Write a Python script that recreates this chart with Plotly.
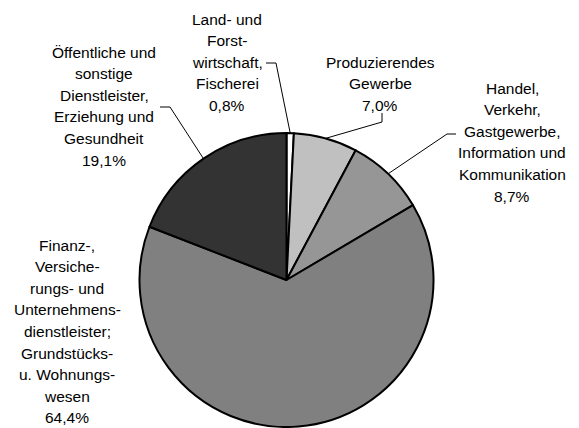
import math
import plotly.graph_objects as go

# ---- data ----
categories = [
    "Land- und|Forst-|wirtschaft,|Fischerei",
    "Produzierendes|Gewerbe",
    "Handel,|Verkehr,|Gastgewerbe,|Information und|Kommunikation",
    "Finanz-,|Versiche-|rungs- und|Unternehmens-|dienstleister;|Grundstücks-|u. Wohnungs-|wesen",
    "Öffentliche und|sonstige|Dienstleister,|Erziehung und|Gesundheit",
]
shares = [0.8, 7.0, 8.7, 64.4, 19.1]
slice_colors = ["#FFFFFF", "#C0C0C0", "#969696", "#808080", "#333333"]

# ---- layout constants (pixels) ----
W, H = 579, 428
CX, CY, R = 286.5, 280.0, 147.0
LINE_H = 21.6
FONT = dict(family="Liberation Sans, Arial, sans-serif", size=15.5, color="#000000")
# label block: (center x, first line y)
label_pos = [(227, 19), (380, 62), (512, 88), (67, 245), (104, 52)]
# leader-line elbow points (from label toward pie); None = no leader
leader_pts = [
    [(266, 63), (276, 63)],
    [(382, 113), (382, 122)],
    [(456, 134), (447, 134)],
    None,
    [(160, 107), (170, 107)],
]

fig = go.Figure()

# invisible pixel-space axes for labels / leader lines
fig.update_layout(
    xaxis=dict(range=[0, W], visible=False, fixedrange=True, domain=[0, 1]),
    yaxis=dict(range=[H, 0], visible=False, fixedrange=True, domain=[0, 1]),
)

total = sum(shares)
cum = 0.0
annotations = []
for i, (cat, v) in enumerate(zip(categories, shares)):
    mid = (cum + v / 2) / total * 2 * math.pi
    cum += v
    ex = CX + R * math.sin(mid)
    ey = CY - R * math.cos(mid)
    lines = cat.split("|") + [f"{v:.1f}".replace(".", ",") + "%"]
    x0, y0 = label_pos[i]
    for k, t in enumerate(lines):
        annotations.append(dict(
            x=x0, y=y0 + k * LINE_H, xref="x", yref="y", text=t,
            showarrow=False, xanchor="center", yanchor="middle", font=FONT,
        ))
    if leader_pts[i] is not None:
        pts = leader_pts[i] + [(ex, ey)]
        fig.add_trace(go.Scatter(
            x=[p[0] for p in pts], y=[p[1] for p in pts], mode="lines",
            line=dict(color="#000000", width=1), hoverinfo="skip", showlegend=False,
        ))

fig.add_trace(go.Pie(
    labels=[c.replace("|", " ") for c in categories],
    values=shares,
    sort=False,
    direction="clockwise",
    rotation=0,
    textinfo="none",
    marker=dict(colors=slice_colors, line=dict(color="#000000", width=2)),
    domain=dict(x=[(CX - R) / W, (CX + R) / W], y=[(H - CY - R) / H, (H - CY + R) / H]),
    showlegend=False,
))

fig.update_layout(
    width=W, height=H,
    margin=dict(l=0, r=0, t=0, b=0),
    paper_bgcolor="#FFFFFF",
    plot_bgcolor="#FFFFFF",
    showlegend=False,
    annotations=annotations,
)

fig.write_html(
    "out.html",
    config={"displayModeBar": False},
    post_script="document.body.style.margin='0';document.body.style.overflow='hidden';",
)
